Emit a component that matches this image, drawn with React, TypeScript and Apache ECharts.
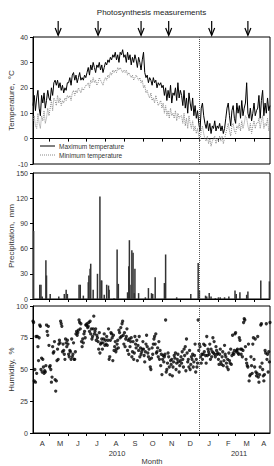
import React, { useEffect, useRef } from "react";
import * as echarts from "echarts";

// ---- data ----
const START_UTC = Date.UTC(2010, 3, 5); // first day on the axis
const N_DAYS = 387; // 2010-04-05 .. 2011-04-26
const TEMP_STEP = 2; // temperature readings every 2 days

const maxTemp = [
  13, 17, 11, 16, 19, 12, 9, 17, 14, 18, 12, 15, 19, 16,
  15, 20, 17, 22, 23, 21, 23, 20, 22, 19, 21, 18, 20, 19, 22,
  22, 24, 21, 25, 26, 23, 25, 22, 24, 26, 23, 24, 23, 25, 24,
  26, 28, 25, 29, 27, 30, 28, 26, 29, 28, 30, 27, 29, 26, 28, 30,
  29, 31, 30, 32, 31, 33, 32, 34, 31, 33, 30, 34, 33, 35, 32,
  33, 30, 34, 31, 33, 29, 32, 30, 33, 31, 28, 32, 30, 27, 31,
  34, 26, 24, 25, 22, 24, 23, 21, 24, 22, 23, 20, 22, 21, 22, 20,
  21, 17, 20, 15, 19, 16, 21, 14, 18, 17, 20, 15, 22, 16, 19,
  17, 13, 19, 12, 16, 10, 18, 14, 11, 16, 9, 13, 8, 11, 6, 3,
  12, 14, 9, 6, 4, 7, 3, 6, 2, 5, 4, 7, 3, 5, 4, 6,
  3, 5, 2, 4, 8, 12, 14, 9, 5, 11, 13, 8, 6, 14,
  10, 13, 8, 15, 9, 12, 14, 22, 10, 8, 12, 7, 10, 14, 9, 11,
  12, 17, 8, 15, 19, 9, 14, 10, 16, 11, 13,
];

const minTemp = [
  7, 9, 5, 4, 10, 6, 4, 9, 7, 11, 6, 8, 12, 9,
  12, 15, 11, 16, 15, 13, 17, 14, 16, 13, 15, 14, 16, 15, 17,
  16, 17, 15, 18, 19, 17, 19, 18, 20, 19, 18, 20, 19, 20, 21,
  21, 22, 20, 23, 22, 24, 22, 23, 21, 22, 24, 23, 22, 21, 23, 24,
  23, 25, 24, 26, 25, 27, 26, 27, 26, 28, 27, 28, 27, 26, 27,
  26, 27, 25, 26, 25, 24, 25, 23, 24, 25, 24, 23, 24, 22, 23,
  20, 21, 18, 19, 17, 16, 18, 15, 16, 14, 17, 15, 13, 14, 15, 12,
  14, 10, 13, 9, 11, 8, 12, 9, 10, 8, 11, 7, 10, 8, 9,
  9, 6, 10, 5, 8, 4, 9, 6, 4, 7, 3, 5, 2, 4, 1, -1,
  3, 5, 2, 0, -1, 1, -2, 0, -3, -1, 0, 1, -2, 0, -1, 1,
  -1, 1, -2, 0, 2, 4, 6, 3, 1, 5, 6, 3, 2, 5,
  4, 6, 3, 7, 4, 6, 9, 8, 5, 3, 6, 2, 5, 7, 4, 6,
  6, 8, 4, 7, 9, 4, 6, 5, 8, 3, 6,
];

// precipitation: day index on the axis and amount (mm)
const precipDays = [
  1, 11, 13, 15, 21, 22, 28, 42, 51, 54, 56, 75, 77, 82, 90, 91, 93, 94, 98,
  105, 109, 111, 112, 116, 120, 123, 124, 132, 137, 139, 154, 156, 157, 158,
  161, 163, 165, 166, 172, 183, 188, 193, 195, 199, 214, 216, 234, 257, 269,
  271, 281, 283, 287, 290, 297, 302, 305, 312, 319, 329, 331, 337, 348, 350,
  371, 385,
];
const precipValues = [
  81, 17, 17, 3, 46, 28, 6, 3, 6, 11, 6, 17, 17, 4, 20, 28, 36, 42, 11,
  30, 122, 22, 22, 5, 17, 16, 11, 1, 59, 18, 8, 39, 70, 17,
  58, 55, 7, 36, 7, 2, 13, 7, 6, 26, 19, 53, 2, 6, 43,
  10, 4, 3, 7, 3, 1, 2, 2, 2, 3, 10, 6, 8, 5, 9,
  22, 21,
];

// relative humidity, one reading per day
const humidity = [
  // Apr 2010
  88, 87, 41, 50, 40, 76, 47, 76, 68, 57, 75, 85, 84, 50, 59, 48, 58, 52, 47, 49, 48, 53, 85, 80, 77, 84,
  // May
  69, 52, 53, 50, 40, 44, 68, 63, 64, 72, 42, 33, 41, 57, 66, 58, 70, 73, 71, 88, 86, 84, 64, 70, 65, 62, 58, 74, 71, 68, 73,
  // Jun
  70, 62, 60, 65, 64, 58, 74, 60, 62, 71, 58, 58, 64, 78, 80, 77, 79, 81, 89, 87, 82, 86, 72, 68, 74, 71, 78, 80, 75, 85,
  // Jul
  85, 86, 83, 84, 87, 80, 88, 78, 82, 74, 76, 82, 92, 78, 80, 82, 73, 77, 75, 72, 66, 79, 63, 70, 71, 74, 66, 71, 74, 78, 69,
  // Aug
  73, 70, 76, 69, 73, 82, 58, 60, 73, 79, 78, 75, 57, 77, 65, 68, 72, 64, 66, 70, 73, 67, 81, 79, 75, 83, 76, 86, 88, 77, 70,
  // Sep
  79, 68, 74, 76, 82, 65, 73, 62, 74, 68, 72, 75, 60, 64, 72, 58, 63, 76, 70, 67, 73, 57, 69, 65, 76, 60, 67, 62, 64, 66,
  // Oct
  72, 66, 61, 56, 64, 70, 77, 68, 63, 60, 66, 58, 52, 50, 59, 67, 62, 70, 74, 76, 70, 78, 63, 64, 67, 60, 72, 58, 65, 53, 62,
  // Nov
  46, 58, 61, 56, 60, 62, 89, 48, 50, 55, 63, 60, 52, 46, 57, 54, 58, 45, 52, 56, 61, 59, 63, 50, 55, 58, 62, 56, 48, 53,
  // Dec
  57, 60, 55, 64, 58, 52, 66, 61, 68, 49, 74, 63, 56, 58, 52, 65, 50, 54, 60, 58, 62, 52, 56, 61, 70, 48, 58, 52, 55, 89, 65,
  // Jan 2011
  70, 68, 60, 55, 62, 58, 62, 70, 64, 69, 61, 55, 76, 61, 66, 64, 62, 70, 58, 66, 60, 64, 75, 63, 72, 62, 60, 68, 65, 62, 63,
  // Feb
  58, 54, 62, 66, 56, 54, 60, 64, 53, 57, 69, 62, 60, 55, 52, 58, 50, 63, 57, 55, 66, 54, 61, 77, 63, 62, 65, 78,
  // Mar
  79, 64, 65, 66, 63, 62, 75, 73, 66, 62, 66, 60, 65, 87, 90, 89, 68, 58, 55, 53, 52, 70, 41, 45, 46, 60, 53, 47, 70, 75, 58,
  // Apr 2011
  52, 74, 48, 45, 47, 76, 44, 40, 46, 52, 85, 86, 55, 50, 45, 41, 46, 65, 63, 86, 58, 62, 48, 64, 56, 87,
];

// photosynthesis measurement days (axis day index)
const arrowDays = [41, 106, 176, 221, 291, 350];

const monthLabels = ["A", "M", "J", "J", "A", "S", "O", "N", "D", "J", "F", "M", "A"];
const monthLabelDays = [15, 44, 73, 104, 135, 166, 195, 226, 256, 287, 318, 348, 376];
const yearLabels = ["2010", "2011"];
const seriesNames = ["Maximum temperature", "Minimum temperature"];

const tempTicks = { min: -10, max: 40, interval: 10 };
const precipTicks = { min: 0, max: 150, interval: 30 };
const humidTicks = { min: 0, max: 100, interval: 25 };

// ---- derived ----
const categories: string[] = [];
const monthStartDays: number[] = [];
for (let i = 0; i < N_DAYS; i++) {
  const d = new Date(START_UTC + i * 86400000);
  categories.push(d.toISOString().slice(0, 10));
  if (d.getUTCDate() === 1) monthStartDays.push(i);
}
const yearStartDay = categories.indexOf("2011-01-01");

const FONT = "Liberation Sans, Arial, sans-serif";
const TXT = "#333";
const MIN_COLOR = "#888";

export default function App() {
  const ref = useRef<HTMLDivElement>(null);
  useEffect(() => {
    if (!ref.current) return;
    const chart = echarts.init(ref.current, null, { renderer: "svg" });

    const precipFull: (number | null)[] = new Array(N_DAYS).fill(null);
    precipDays.forEach((d, i) => {
      precipFull[d] = precipValues[i];
    });

    const grids = [
      { left: 33, top: 37, width: 237, height: 127 },
      { left: 33, top: 173, width: 237, height: 126 },
      { left: 33, top: 306, width: 237, height: 127 },
    ].map((g) => ({
      ...g,
      show: true,
      borderColor: "#000",
      borderWidth: 1,
      backgroundColor: "transparent",
      containLabel: false,
      outerBoundsMode: "none",
    }));

    const xAxes = [0, 1, 2].map((gi) => ({
      type: "category",
      gridIndex: gi,
      data: categories,
      boundaryGap: false,
      axisLine: { show: true, lineStyle: { color: "#000", width: 1 } },
      axisTick: {
        show: true,
        length: 3,
        interval: (idx: number) => monthStartDays.includes(idx),
        lineStyle: { color: "#000", width: 1 },
      },
      axisLabel: {
        show: gi === 2,
        interval: (idx: number) => monthLabelDays.includes(idx),
        formatter: (_v: string, idx: number) => {
          const k = monthLabelDays.indexOf(idx);
          return k >= 0 ? monthLabels[k] : "";
        },
        fontSize: 7.5,
        color: TXT,
        fontFamily: FONT,
        margin: 6,
      },
      splitLine: { show: false },
    }));

    const yBase = (gi: number, name: string, t: { min: number; max: number; interval: number }) => ({
      type: "value",
      gridIndex: gi,
      min: t.min,
      max: t.max,
      interval: t.interval,
      name,
      nameLocation: "middle",
      nameGap: 18,
      nameMoveOverlap: false,
      nameTextStyle: { fontSize: 8, color: TXT, fontFamily: FONT },
      axisLine: { show: true, lineStyle: { color: "#000", width: 1 } },
      axisTick: { show: true, length: 3, lineStyle: { color: "#000" } },
      axisLabel: { fontSize: 7, color: TXT, fontFamily: FONT, margin: 5 },
      splitLine: { show: false },
    });

    const mark = {
      silent: true,
      symbol: ["none", "none"],
      label: { show: false },
      lineStyle: { type: "dotted", color: "#555", width: 1 },
      data: [{ xAxis: categories[yearStartDay] }],
      animation: false,
    };

    const legendLine = (y: number, stroke: string, dash: number[] | null) => ({
      type: "line",
      shape: { x1: 40, y1: y, x2: 55, y2: y },
      style: { stroke, lineWidth: 1, lineDash: dash || undefined },
      silent: true,
    });
    const legendText = (y: number, text: string) => ({
      type: "text",
      x: 59,
      y,
      style: { text, fontSize: 6.5, fill: TXT, fontFamily: FONT, align: "left", verticalAlign: "middle" },
      silent: true,
    });

    chart.setOption({
      animation: false,
      grid: grids,
      xAxis: xAxes,
      yAxis: [
        yBase(0, "Temperature,  °C", tempTicks),
        yBase(1, "Precipitation,  mm", precipTicks),
        yBase(2, "Humidity,  %", humidTicks),
      ],
      series: [
        {
          name: seriesNames[0],
          type: "line",
          xAxisIndex: 0,
          yAxisIndex: 0,
          symbol: "none",
          color: "#000",
          lineStyle: { color: "#000", width: 1 },
          data: maxTemp.map((v, i) => [i * TEMP_STEP, v]),
          markLine: mark,
        },
        {
          name: seriesNames[1],
          type: "line",
          xAxisIndex: 0,
          yAxisIndex: 0,
          symbol: "none",
          color: MIN_COLOR,
          lineStyle: { color: MIN_COLOR, width: 1, type: "dotted" },
          data: minTemp.map((v, i) => [i * TEMP_STEP, v]),
        },
        {
          name: "arrows",
          type: "custom",
          xAxisIndex: 0,
          yAxisIndex: 0,
          clip: false,
          silent: true,
          data: arrowDays.map((d) => [d, tempTicks.max]),
          renderItem: (_p: any, api: any) => {
            const pt = api.coord([api.value(0), api.value(1)]);
            const x = pt[0];
            const y = pt[1];
            const st = { stroke: "#000", lineWidth: 1.2, fill: "none" };
            return {
              type: "group",
              children: [
                { type: "line", shape: { x1: x, y1: y - 16, x2: x, y2: y - 2 }, style: st },
                {
                  type: "polyline",
                  shape: { points: [[x - 3, y - 9], [x, y - 1.5], [x + 3, y - 9]] },
                  style: st,
                },
              ],
            };
          },
        },
        {
          name: "Precipitation",
          type: "bar",
          xAxisIndex: 1,
          yAxisIndex: 1,
          barWidth: 1.5,
          itemStyle: { color: "#333" },
          data: precipFull,
          markLine: mark,
        },
        {
          name: "Humidity",
          type: "scatter",
          xAxisIndex: 2,
          yAxisIndex: 2,
          symbolSize: 3.3,
          itemStyle: { color: "#000" },
          data: humidity.map((v, i) => [i, v]),
          markLine: mark,
        },
      ],
      graphic: [
        {
          type: "text",
          x: 151.5,
          y: 12,
          style: {
            text: "Photosynthesis measurements",
            fontSize: 8,
            fill: "#222",
            fontFamily: FONT,
            align: "center",
            verticalAlign: "middle",
          },
        },
        legendLine(146, "#000", null),
        legendText(146, seriesNames[0]),
        legendLine(155, MIN_COLOR, [1, 1]),
        legendText(155, seriesNames[1]),
        {
          type: "text",
          x: 117,
          y: 453,
          style: { text: yearLabels[0], fontSize: 7.5, fill: TXT, fontFamily: FONT, align: "center", verticalAlign: "middle" },
        },
        {
          type: "text",
          x: 239,
          y: 453,
          style: { text: yearLabels[1], fontSize: 7.5, fill: TXT, fontFamily: FONT, align: "center", verticalAlign: "middle" },
        },
        {
          type: "text",
          x: 152,
          y: 457,
          style: { text: "Month", fontSize: 7.5, fill: TXT, fontFamily: FONT, align: "center", verticalAlign: "top" },
        },
      ],
    });
    return () => chart.dispose();
  }, []);
  return (
    <div
      ref={ref}
      style={{ position: "fixed", left: 0, top: 0, width: 274, height: 466, background: "#fff" }}
    />
  );
}
